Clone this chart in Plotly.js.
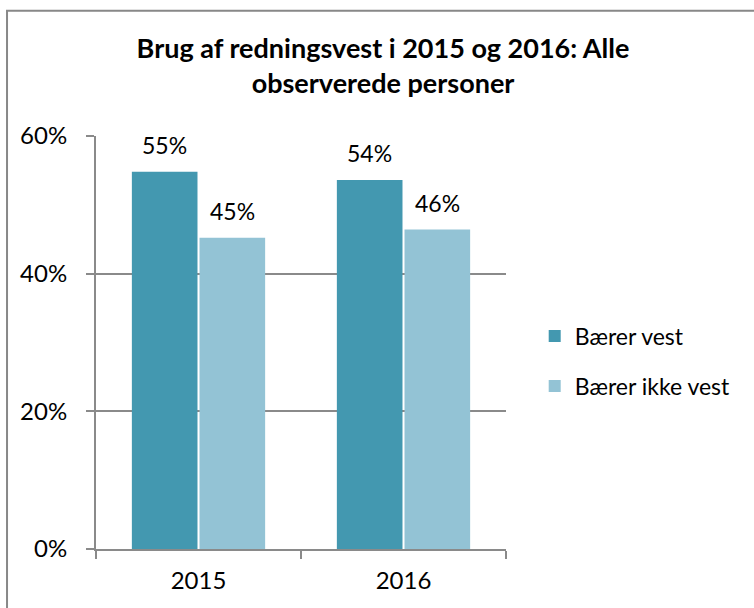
<!DOCTYPE html>
<html>
<head>
<meta charset="utf-8">
<script src="https://cdn.plot.ly/plotly-3.0.1.min.js"></script>
<style>
  html, body { margin: 0; padding: 0; background: #fff; }
  #myDiv { width: 754px; height: 608px; }
</style>
</head>
<body>
<div id="myDiv"></div>
<script>
var years = ['2015', '2016'];
var names = ['Bærer vest', 'Bærer ikke vest'];
var wearsVest = [0.548, 0.536];
var noVest = [0.452, 0.464];
var colors = ['#4398b0', '#93c3d5'];

var series = [wearsVest, noVest];
var labelFont = { family: 'Lato, sans-serif', size: 23, color: '#000' };

var data = [];
var notes = [];
for (var i = 0; i < series.length; i++) {
  data.push({
    type: 'bar',
    x: years,
    y: series[i],
    name: names[i],
    legendgroup: 'g' + i,
    marker: { color: colors[i] },
    hoverinfo: 'none'
  });
  // value labels above each bar (category index as x)
  for (var j = 0; j < years.length; j++) {
    notes.push({
      x: j,
      y: series[i][j],
      xref: 'x', yref: 'y',
      text: Math.round(series[i][j] * 100) + '%',
      showarrow: false,
      xshift: i === 0 ? -34 : 34,
      yshift: 27,
      font: labelFont
    });
  }
}

var layout = {
  width: 754,
  height: 608,
  margin: { l: 96, r: 248, t: 136, b: 59 },
  paper_bgcolor: '#fff',
  plot_bgcolor: '#fff',
  font: { family: 'Lato, sans-serif', size: 23, color: '#000' },
  title: {
    text: '<b>Brug af redningsvest i 2015 og 2016: Alle<br>observerede personer</b>',
    font: { family: 'Lato, sans-serif', size: 27, color: '#000' },
    xref: 'container', x: 0.508, xanchor: 'center',
    yref: 'container', y: 0.905, yanchor: 'middle'
  },
  barmode: 'group',
  bargap: 0.34,
  bargroupgap: 0.03,
  showlegend: true,
  legend: {
    x: 1.07, xanchor: 'left',
    y: 0.455, yanchor: 'middle',
    tracegroupgap: 17,
    font: { family: 'Lato, sans-serif', size: 23, color: '#000' },
    bgcolor: 'rgba(0,0,0,0)'
  },
  xaxis: {
    type: 'category',
    showline: true, linecolor: '#8a8a8a', linewidth: 2,
    ticks: 'outside', tickson: 'boundaries', ticklen: 8, tickwidth: 2, tickcolor: '#8a8a8a',
    ticklabelstandoff: 9,
    tickfont: { size: 24 },
    showgrid: false, zeroline: false,
    fixedrange: true
  },
  yaxis: {
    range: [0, 0.6],
    dtick: 0.2,
    tickformat: '.0%',
    showline: true, linecolor: '#8a8a8a', linewidth: 2,
    ticks: 'outside', ticklen: 8, tickwidth: 2, tickcolor: '#8a8a8a',
    ticklabelstandoff: 14,
    tickfont: { size: 24 },
    showgrid: true, gridcolor: '#8a8a8a', gridwidth: 2,
    zeroline: false,
    fixedrange: true
  },
  annotations: notes,
  shapes: [{
    type: 'rect', xref: 'paper', yref: 'paper', layer: 'below',
    x0: -0.217, x1: 2, y0: -0.5, y1: 1.303,
    line: { color: '#888', width: 2 }
  }]
};

Plotly.newPlot('myDiv', data, layout, { displayModeBar: false, staticPlot: true });
</script>
</body>
</html>
